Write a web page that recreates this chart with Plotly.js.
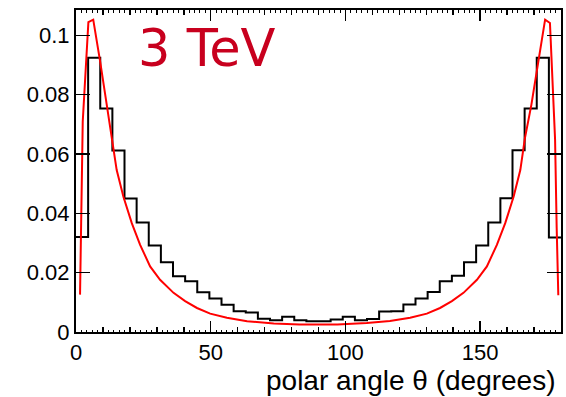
<!DOCTYPE html>
<html>
<head>
<meta charset="utf-8">
<script src="https://cdn.plot.ly/plotly-3.0.1.min.js"></script>
<style>html,body{margin:0;padding:0;background:#fff;}#chart{width:566px;height:397px;}</style>
</head>
<body>
<div id="chart"></div>
<script>
// Histogram: 40 bins of 4.5 degrees from 0 to 180
const binWidth = 4.5;
const histValues = [
  0.0320, 0.0925, 0.0754, 0.0612, 0.0450, 0.0369, 0.0292, 0.0235, 0.0188, 0.0171,
  0.0134, 0.0113, 0.0092, 0.0070, 0.0066, 0.0045, 0.0040, 0.0051, 0.0040, 0.0036,
  0.0036, 0.0042, 0.0051, 0.0040, 0.0044, 0.0069, 0.0070, 0.0093, 0.0113, 0.0135,
  0.0171, 0.0190, 0.0235, 0.0292, 0.0369, 0.0451, 0.0613, 0.0754, 0.0925, 0.0319
];

// Red curve (theory)
const curveTheta = [
  1.5, 1.8, 2.5, 4.6, 6.4, 9.0, 11.4, 13.6, 15.1, 17.6, 20.7, 23.8, 27.5, 31.2, 36.2,
  40.5, 44.9, 49.8, 56, 63.5, 73.4, 83, 90, 97, 107.9, 116.5, 124, 130.2, 135.1, 139.5,
  143.8, 148.8, 152.5, 156.2, 159.3, 162.4, 164.9, 166.6, 169.0, 171.3, 174.1, 175.9,
  177.8, 178.4, 179.0
];
const curveValues = [
  0.0126, 0.035, 0.071, 0.1045, 0.1053, 0.091, 0.0766, 0.064, 0.0546, 0.0456, 0.0367,
  0.0294, 0.0221, 0.0176, 0.0132, 0.0104, 0.0081, 0.0062, 0.0048, 0.0036, 0.0029,
  0.0025, 0.0024, 0.0025, 0.0030, 0.0037, 0.0048, 0.0062, 0.0081, 0.0104, 0.0132,
  0.0176, 0.0221, 0.0294, 0.0367, 0.0456, 0.0546, 0.0653, 0.0766, 0.0893, 0.1053,
  0.1042, 0.065, 0.035, 0.0124
];

const xTickVals = [0, 50, 100, 150];
const xTickText = ['0', '50', '100', '150'];
const energyLabel = '3 TeV';
const xLabel = 'polar angle θ (degrees)';

// step trace from bin edges
const stepX = [], stepY = [];
histValues.forEach((v, i) => { stepX.push(i * binWidth); stepY.push(v); });
stepX.push(histValues.length * binWidth);
stepY.push(histValues[histValues.length - 1]);

const tickFont = {family: 'Liberation Sans, Arial, sans-serif', size: 22, color: '#000'};

const data = [
  {x: stepX, y: stepY, type: 'scatter', mode: 'lines',
   line: {shape: 'hv', color: '#000', width: 2}, hoverinfo: 'skip', xaxis: 'x', yaxis: 'y'},
  {x: curveTheta, y: curveValues, type: 'scatter', mode: 'lines',
   line: {color: '#ff0000', width: 2}, hoverinfo: 'skip', xaxis: 'x', yaxis: 'y'}
];

const layout = {
  width: 566, height: 397,
  margin: {l: 76, r: 5, t: 10, b: 65},
  paper_bgcolor: '#fff', plot_bgcolor: '#fff',
  showlegend: false,
  xaxis: {
    range: [0, 180], tickvals: xTickVals, ticktext: xTickText,
    ticks: 'inside', ticklen: 11, tickwidth: 1.5, tickcolor: '#000',
    minor: {dtick: 10, ticks: 'inside', ticklen: 5, tickwidth: 1.5, tickcolor: '#000', showgrid: false},
    showline: true, linecolor: '#000', linewidth: 2, mirror: 'ticks',
    showgrid: false, zeroline: false, tickfont: tickFont, fixedrange: true
  },
  xaxis2: {
    overlaying: 'x', matches: 'x', range: [0, 180], dtick: 2, tick0: 0,
    ticks: 'inside', ticklen: 2.5, tickwidth: 1, tickcolor: '#000',
    showticklabels: false, showline: true, linecolor: '#000', linewidth: 2, mirror: 'ticks',
    showgrid: false, zeroline: false, fixedrange: true
  },
  yaxis: {
    range: [0, 0.10857], dtick: 0.02, tick0: 0,
    ticks: 'inside', ticklen: 14, tickwidth: 1.5, tickcolor: '#000',
    showline: true, linecolor: '#000', linewidth: 2, mirror: 'ticks',
    showgrid: false, zeroline: false, tickfont: tickFont, fixedrange: true
  },
  annotations: [
    {text: energyLabel, xref: 'paper', yref: 'paper', x: 0.124, y: 0.881,
     xanchor: 'left', yanchor: 'middle', showarrow: false,
     font: {family: 'DejaVu Sans, sans-serif', size: 51, color: '#c8001e'}},
    {text: xLabel, xref: 'paper', yref: 'paper', x: 0.993, y: -0.15,
     xanchor: 'right', yanchor: 'middle', showarrow: false,
     font: {family: 'Liberation Sans, Arial, sans-serif', size: 28, color: '#000'}}
  ]
};

// dummy trace so xaxis2 is drawn
data.push({x: [0], y: [0], type: 'scatter', mode: 'markers', marker: {opacity: 0}, xaxis: 'x2', yaxis: 'y', hoverinfo: 'skip'});

Plotly.newPlot('chart', data, layout, {staticPlot: true, displayModeBar: false});
</script>
</body>
</html>
